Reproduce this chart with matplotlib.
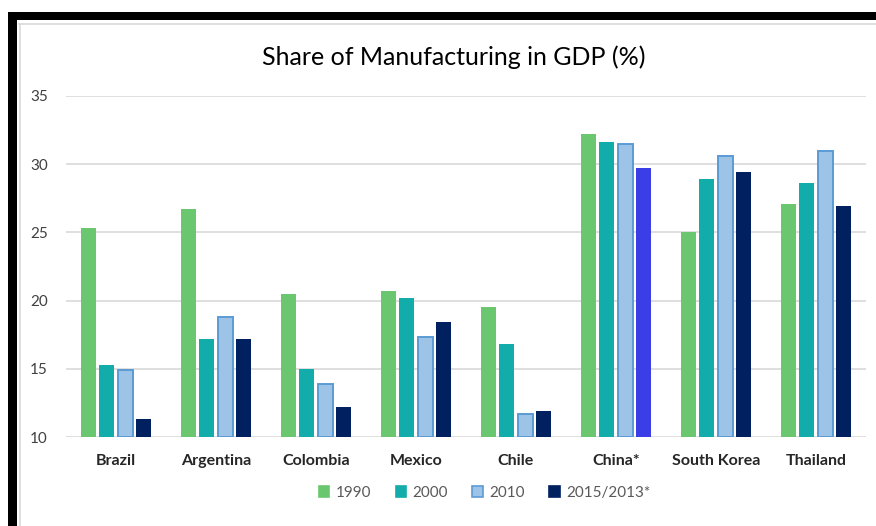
import matplotlib
matplotlib.use("Agg")
import matplotlib.pyplot as plt
from matplotlib.patches import Rectangle, Patch
from matplotlib.lines import Line2D
import numpy as np

plt.rcParams['font.family'] = ['Lato', 'DejaVu Sans']

countries = ["Brazil", "Argentina", "Colombia", "Mexico", "Chile", "China*", "South Korea", "Thailand"]
series_names = ["1990", "2000", "2010", "2015/2013*"]
v1990 = [25.3, 26.7, 20.5, 20.7, 19.5, 32.2, 25.0, 27.1]
v2000 = [15.3, 17.2, 15.0, 20.2, 16.8, 31.6, 28.9, 28.6]
v2010 = [14.9, 18.8, 13.9, 17.3, 11.7, 31.5, 30.6, 31.0]
v2015 = [11.3, 17.2, 12.2, 18.4, 11.9, 29.7, 29.4, 26.9]
yticks = [10, 15, 20, 25, 30, 35]

values = [v1990, v2000, v2010, v2015]
fills = ["#6BC76F", "#12ADAB", "#9DC3E6", "#00205F"]
edges = ["none", "none", "#5B9BD5", "none"]
china_latest = "#3B3DE6"

fig = plt.figure(figsize=(8.76, 5.26), dpi=100)
ax = fig.add_axes([0.0753, 0.1692, 0.9133, 0.6483])

x = np.arange(len(countries))
pitch, width = 0.1825, 0.15
base = yticks[0]
for j, vals in enumerate(values):
    cols = [fills[j]] * len(countries)
    if j == 3:
        cols[countries.index("China*")] = china_latest
    heights = np.array(vals) - base
    ax.bar(x + (j - 1.5) * pitch, heights, width=width, bottom=base,
           color=cols, edgecolor=edges[j], linewidth=1.4 if edges[j] != "none" else 0,
           zorder=3)

ax.set_xlim(-0.5, len(countries) - 0.5)
ax.set_ylim(yticks[0], yticks[-1])
ax.set_yticks(yticks)
ax.set_yticklabels([str(t) for t in yticks], fontsize=11, color="#404040")
ax.set_xticks(x)
ax.set_xticklabels(countries, fontsize=11.5, fontweight="bold", color="#262626")
ax.tick_params(axis="both", length=0)
ax.tick_params(axis="y", pad=13)
ax.tick_params(axis="x", pad=12)
ax.grid(axis="y", color="#D9D9D9", linewidth=1.2, zorder=0)
for s in ax.spines.values():
    s.set_visible(False)
ax.set_axisbelow(True)

fig.text(0.518, 1 - 57 / 526, "Share of Manufacturing in GDP (%)", ha="center", va="center",
         fontsize=18, color="#000000")

handles = [Patch(facecolor=fills[j], edgecolor=(edges[j] if edges[j] != "none" else fills[j]),
                 linewidth=1.2) for j in range(4)]
fig.legend(handles, series_names, loc="center", bbox_to_anchor=(0.553, 1 - 493 / 526),
           ncol=4, frameon=False, fontsize=11, handlelength=0.7, handleheight=0.7,
           handletextpad=0.4, columnspacing=1.6, labelcolor="#595959")

# Outer frame: heavy black edge on top and left, with light inner chart border
fig.add_artist(Rectangle((8 / 876, 1 - 20 / 526), 868 / 876, 8 / 526, transform=fig.transFigure,
                         facecolor="black", edgecolor="none"))
fig.add_artist(Rectangle((8 / 876, 0), 9 / 876, 1 - 12 / 526, transform=fig.transFigure,
                         facecolor="black", edgecolor="none"))
fig.add_artist(Line2D([19 / 876, 1], [1 - 24 / 526, 1 - 24 / 526], transform=fig.transFigure,
                      color="#D9D9D9", linewidth=1.2))
fig.add_artist(Line2D([19.5 / 876, 19.5 / 876], [0, 1 - 24 / 526], transform=fig.transFigure,
                      color="#D9D9D9", linewidth=1.2))

fig.savefig("out.png", dpi=100)
